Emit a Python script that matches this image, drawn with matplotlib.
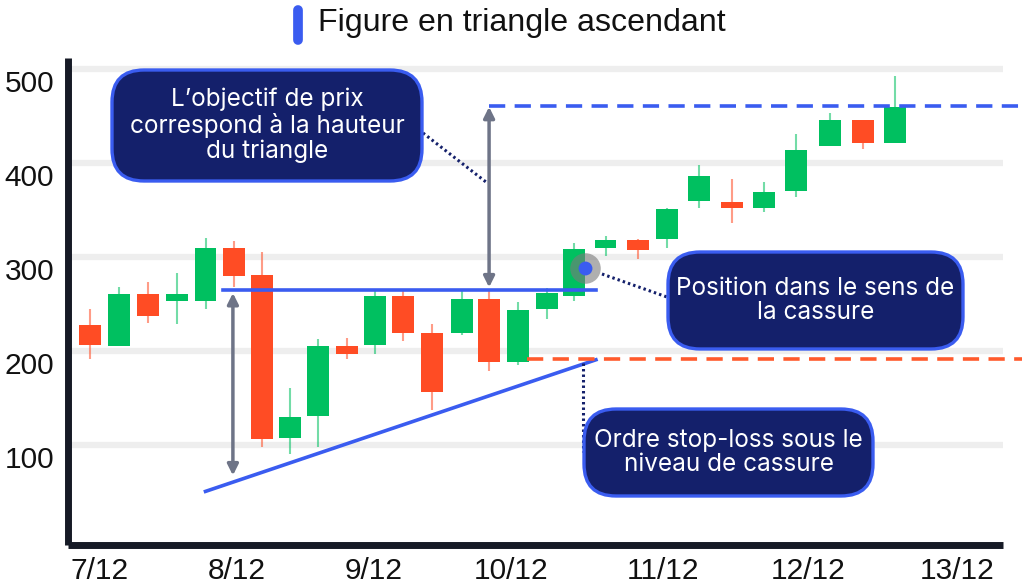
import matplotlib
matplotlib.use("Agg")
import matplotlib.pyplot as plt
from matplotlib.patches import FancyBboxPatch
from matplotlib.lines import Line2D
from matplotlib.transforms import IdentityTransform, ScaledTranslation

# --- donnees ---
days = [6.93, 7.14, 7.35, 7.56, 7.77, 7.98, 8.18, 8.39, 8.59, 8.80,
        9.01, 9.21, 9.42, 9.64, 9.84, 10.05, 10.26, 10.46, 10.69, 10.93,
        11.14, 11.37, 11.61, 11.85, 12.08, 12.33, 12.57, 12.80]
opens = [228, 206, 261, 253, 253, 310, 281, 108, 131, 206,
         207, 259, 220, 220, 256, 189, 245, 259, 310, 318,
         319, 360, 359, 352, 370, 418, 446, 422]
closes = [207, 261, 238, 261, 310, 280, 107, 130, 206, 197,
          259, 220, 157, 256, 189, 244, 262, 309, 318, 308,
          351, 386, 352, 369, 414, 446, 422, 460]
highs = [245, 268, 274, 283, 321, 317, 306, 161, 213, 214,
         265, 265, 229, 265, 265, 252, 267, 315, 323, 319,
         352, 398, 383, 380, 431, 453, 446, 493]
lows = [192, 206, 230, 229, 245, 268, 98, 91, 98, 192,
        197, 211, 138, 217, 179, 185, 234, 253, 301, 298,
        310, 352, 336, 348, 364, 418, 415, 422]

tick_pos = [7, 8, 9, 10, 11.11, 12.17, 13.26]
tick_labels = ["7/12", "8/12", "9/12", "10/12", "11/12", "12/12", "13/12"]
y_ticks = [100, 200, 300, 400, 500]

resistance = 265
target = 461
stop = 192
trend_x = [7.77, 10.62]
trend_y = [51, 191]
breakout = (10.54, 289)

GREEN = "#00c060"
RED = "#ff4c24"
BLUE = "#3a5cf0"
NAVY = "#14206b"
GREY = "#6e7487"

fig = plt.figure(figsize=(10.25, 5.85), dpi=100)
ax = fig.add_axes([0.0663, 0.0684, 0.9122, 0.8325])
ax.set_xlim(6.766, 13.591)
ax.set_ylim(-6, 512)

# grille
ax.set_yticks(y_ticks)
ax.grid(axis="y", color="#eeeeee", lw=4.5, solid_capstyle="round", zorder=0)
ax.set_axisbelow(True)

# bougies
for x, o, c, h, l in zip(days, opens, closes, highs, lows):
    col = GREEN if c >= o else RED
    ax.vlines(x, l, h, color=col, lw=1.5, alpha=0.55, zorder=2)
    ax.bar(x, c - o, bottom=o, width=0.16, color=col, zorder=3)

# lignes du triangle
ax.plot([7.90, 10.62], [resistance, resistance], color=BLUE, lw=2.6, zorder=4)
ax.plot(trend_x, trend_y, color=BLUE, lw=2.6, zorder=4)
ax.plot([9.84, 13.75], [target, target], color=BLUE, lw=2.6,
        ls=(0, (4.5, 2.6)), clip_on=False, zorder=4)
ax.plot([10.12, 13.73], [stop, stop], color="#ff5a2c", lw=2.6,
        ls=(0, (4.5, 2.6)), clip_on=False, zorder=4)

# fleches (hauteur du triangle)
arrow = dict(arrowstyle="<|-|>", color=GREY, lw=2.5, mutation_scale=16,
             shrinkA=0, shrinkB=0)
ax.annotate("", xy=(7.97, 68), xytext=(7.97, 262), arrowprops=arrow, zorder=5)
ax.annotate("", xy=(9.84, 268), xytext=(9.84, 460), arrowprops=arrow, zorder=5)

# point de cassure
ax.plot(*breakout, "o", ms=22, color="#7a7a7a", alpha=0.6, mec="none", zorder=6)
ax.plot(*breakout, "o", ms=10, color=BLUE, mec="none", zorder=7)

# axes
for s in ["top", "right"]:
    ax.spines[s].set_visible(False)
for s in ["left", "bottom"]:
    ax.spines[s].set_linewidth(5)
    ax.spines[s].set_color("#161a26")
    ax.spines[s].set_capstyle("butt")

ax.set_xticks(tick_pos)
ax.set_xticklabels(tick_labels)
ax.tick_params(length=0, labelsize=21.5, colors="#111111")
ax.tick_params(axis="x", pad=9)
ax.tick_params(axis="y", pad=10)
for lab in ax.get_xticklabels() + ax.get_yticklabels():
    lab.set_fontfamily("Liberation Sans")
off = ScaledTranslation(0, -0.12, fig.dpi_scale_trans)
for lab in ax.get_yticklabels():
    lab.set_transform(lab.get_transform() + off)

H = 585


def box(x0, y0, x1, y1, text):
    p = FancyBboxPatch((x0, H - y1), x1 - x0, y1 - y0,
                       boxstyle="round,pad=0,rounding_size=32",
                       transform=IdentityTransform(), fc=NAVY, ec=BLUE,
                       lw=2.4, zorder=10)
    fig.patches.append(p)
    fig.text((x0 + x1) / 2 / 1025, 1 - (y0 + y1) / 2 / H, text, color="white",
             ha="center", va="center", fontsize=17.5, family="Inter",
             linespacing=1.1, zorder=11)


def dots(x0, y0, x1, y1):
    fig.add_artist(Line2D([x0 / 1025, x1 / 1025], [1 - y0 / H, 1 - y1 / H],
                          color=NAVY, lw=2.2, ls=(0, (0.8, 1.0)), zorder=9))


dots(423, 133, 486, 182)
dots(602, 274, 667, 297)
dots(583, 363, 583, 452)

box(112, 70, 422, 181, "L’objectif de prix\ncorrespond à la hauteur\ndu triangle")
box(668, 252, 963, 349, "Position dans le sens de\nla cassure")
box(584, 409, 873, 496, "Ordre stop-loss sous le\nniveau de cassure")

# legende / titre
fig.add_artist(Line2D([298 / 1025, 298 / 1025], [1 - 10 / H, 1 - 40 / H],
                      color=BLUE, lw=7, solid_capstyle="round"))
fig.text(318 / 1025, 1 - 23 / H, "Figure en triangle ascendant", fontsize=23.1,
         family="Liberation Sans", color="#111111", ha="left", va="center")

fig.savefig("out.png", dpi=100)
